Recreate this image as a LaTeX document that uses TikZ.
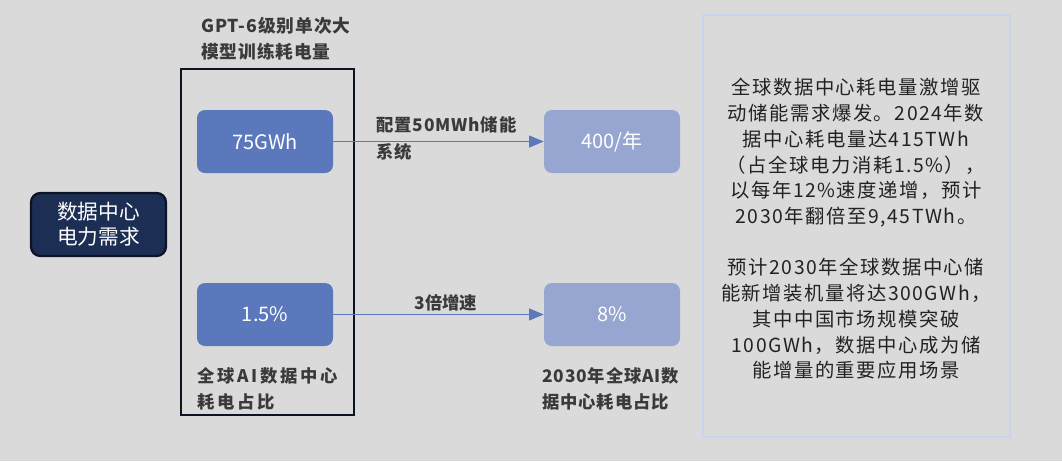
\documentclass[tikz,border=0pt]{standalone}
\usepackage{fontspec}
\setmainfont{Noto Sans CJK SC}
\newfontfamily\spfont[LetterSpace=16]{Noto Sans CJK SC}
\newfontfamily\spsmall[LetterSpace=5]{Noto Sans CJK SC}
\newfontfamily\titlefont[LetterSpace=5]{Noto Sans CJK SC}
\newfontfamily\parafont[LetterSpace=8]{Noto Sans CJK SC}
\usetikzlibrary{arrows.meta}
\definecolor{bgc}{HTML}{DADADA}
\definecolor{navy}{HTML}{1C2E54}
\definecolor{navyline}{HTML}{0B1324}
\definecolor{boxa}{HTML}{5B78BD}
\definecolor{boxb}{HTML}{97A6D0}
\definecolor{labc}{HTML}{3A3A3A}
\definecolor{parac}{HTML}{222222}
\definecolor{rbord}{HTML}{C8D5EE}
\tikzset{
  valbox/.style={rounded corners=6pt, minimum width=102pt, minimum height=47.25pt, inner sep=0pt, text=white, font=\fontsize{15}{18}\selectfont},
  darkbox/.style={valbox, fill=boxa},
  lightbox/.style={valbox, fill=boxb},
  lab/.style={text=labc, font=\fontsize{13}{20}\selectfont\bfseries, align=left, inner sep=0pt},
  conn/.style={draw=boxa, line width=0.9pt, -{Triangle[length=11pt,width=9pt]}},
}
\begin{document}
\begin{tikzpicture}[x=0.75pt,y=-0.75pt]
\fill[bgc] (0,0) rectangle (1062,461);
\useasboundingbox (0,0) rectangle (1062,461);
% left node
\node[draw=navyline, line width=1.7pt, fill=navy, rounded corners=7pt, minimum width=101.25pt, minimum height=47.25pt, inner sep=0pt, text=white, align=center, font=\fontsize{15.5}{19}\selectfont] (dc) at (98.5,224.5) {数据中心\\电力需求};
% frame
\node[draw=navyline, line width=1.5pt, minimum width=129.75pt, minimum height=259.5pt, inner sep=0pt] (frame) at (267.5,242) {};
\node[lab, anchor=west, font=\fontsize{13.3}{19.5}\selectfont\bfseries\titlefont] (title) at (201,38.5) {GPT-6级别单次大\\模型训练耗电量};
% value boxes
\node[darkbox] (v1) at (265,141.5) {75GWh};
\node[darkbox] (v2) at (265,314.5) {1.5\%};
\node[lightbox] (v3) at (612,141.5) {400/年};
\node[lightbox] (v4) at (612,314.5) {8\%};
% connectors
\draw[conn] (v1.east) -- (v3.west);
\draw[conn] (v2.east) -- (v4.west);
\node[lab, anchor=west, font=\fontsize{13}{20}\selectfont\bfseries\spsmall] (l1) at (376,138.5) {配置50MWh储能\\系统};
\node[lab, font=\fontsize{13}{20}\selectfont\bfseries] (l2) at (446,303) {3倍增速};
\node[lab, anchor=west, font=\fontsize{13}{20}\selectfont\bfseries\spfont] (l3) at (197,389) {全球AI数据中心\\耗电占比};
\node[lab, anchor=west, font=\fontsize{13}{20}\selectfont\bfseries\spsmall] (l4) at (542,389) {2030年全球AI数\\据中心耗电占比};
% right box
\node[draw=rbord, line width=1.5pt, minimum width=230.25pt, minimum height=316.5pt, inner sep=0pt] (rbox) at (856.5,226) {};
\node[text=parac, align=center, inner sep=0pt, font=\fontsize{14.5}{19.3}\selectfont\parafont] (para) at (856,229) {全球数据中心耗电量激增驱\\动储能需求爆发。2024年数\\据中心耗电量达415TWh\\（占全球电力消耗1.5\%），\\以每年12\%速度递增，预计\\2030年翻倍至9,45TWh。\\[19.3pt]预计2030年全球数据中心储\\能新增装机量将达300GWh，\\其中中国市场规模突破\\100GWh，数据中心成为储\\能增量的重要应用场景};
\end{tikzpicture}
\end{document}
